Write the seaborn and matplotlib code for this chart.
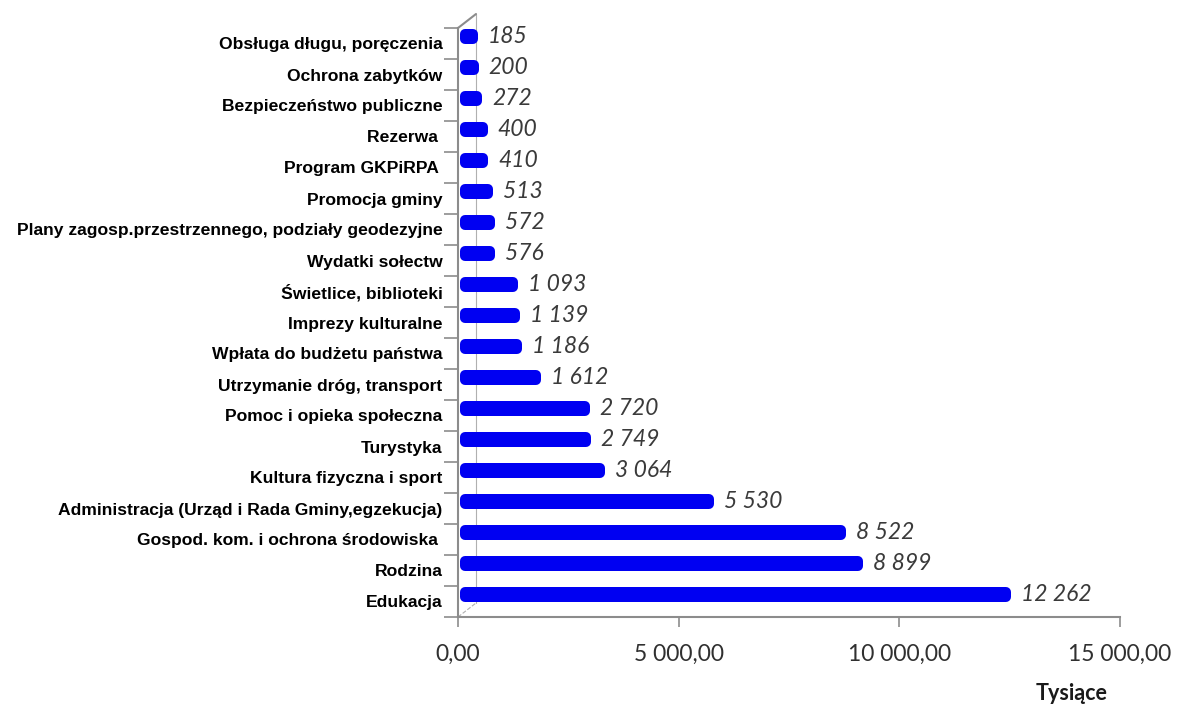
import matplotlib
matplotlib.use("Agg")
import matplotlib.pyplot as plt
import matplotlib.transforms as mtransforms
from matplotlib.lines import Line2D
import seaborn as sns
import pandas as pd

categories = [
    "Obsługa długu, poręczenia",
    "Ochrona zabytków",
    "Bezpieczeństwo publiczne",
    "Rezerwa ",
    "Program GKPiRPA ",
    "Promocja gminy",
    "Plany zagosp.przestrzennego, podziały geodezyjne",
    "Wydatki sołectw",
    "Świetlice, biblioteki",
    "Imprezy kulturalne",
    "Wpłata do budżetu państwa",
    "Utrzymanie dróg, transport",
    "Pomoc i opieka społeczna",
    "Turystyka",
    "Kultura fizyczna i sport",
    "Administracja (Urząd i Rada Gminy,egzekucja)",
    "Gospod. kom. i ochrona środowiska ",
    "Rodzina",
    "Edukacja",
]
values = [185, 200, 272, 400, 410, 513, 572, 576, 1093, 1139, 1186, 1612,
          2720, 2749, 3064, 5530, 8522, 8899, 12262]
xticks = [0, 5000, 10000, 15000]
xtick_labels = ["0,00", "5 000,00", "10 000,00", "15 000,00"]
axis_title = "Tysiące"

df = pd.DataFrame({"cat": categories, "val": values})

sns.set_theme(style="white")
plt.rcParams["font.family"] = ["Liberation Sans", "DejaVu Sans"]

W, H = 1177, 704
fig = plt.figure(figsize=(W / 100, H / 100), dpi=100)
left, right, top, bottom = 458, 1120, 28, 617
ax = fig.add_axes([left / W, 1 - bottom / H, (right - left) / W, (bottom - top) / H])

sns.barplot(data=df, x="val", y="cat", orient="h", color="#0000f2",
            width=0.16, ax=ax, saturation=1)

# 3D-like offset for bars, rounded ends via thick round-joined edge
off = mtransforms.ScaledTranslation(7 / 100, 7 / 100, fig.dpi_scale_trans)
for p in ax.patches:
    p.set_transform(ax.transData + off)
    p.set_edgecolor("#0000f2")
    p.set_linewidth(7.2)
    p.set_joinstyle("round")
    p.set_clip_on(False)
    p.set_zorder(3)

ax.set_xlim(0, 15000)
ax.set_ylim(len(categories) - 0.5, -0.5)
ax.set_xlabel("")
ax.set_ylabel("")

# value labels
lab_off = mtransforms.ScaledTranslation(22 / 100, 7 / 100, fig.dpi_scale_trans)
for i, v in enumerate(values):
    s = f"{v:,}".replace(",", " ")
    ax.text(v, i, s, transform=ax.transData + lab_off, ha="left", va="center",
            fontsize=16.5, style="italic", color="#3a3a3a", family=["Lato", "DejaVu Sans"])

ax.set_xticks(xticks)
ax.set_xticklabels(xtick_labels, family=["Lato", "DejaVu Sans"], fontsize=16.5, color="#303030")
ax.tick_params(axis="x", which="major", bottom=True, length=7, width=1.2, color="#8c8c8c", pad=12)
ax.tick_params(axis="y", which="major", left=False, length=0, pad=11)
ax.set_yticks([i - 0.5 for i in range(len(categories) + 1)], minor=True)
ax.tick_params(axis="y", which="minor", left=True, length=10, width=1.2, color="#8c8c8c")
for t in ax.get_yticklabels():
    t.set_fontweight("bold")
    t.set_fontsize(12.6)
    t.set_color("#000000")

for s in ["top", "right"]:
    ax.spines[s].set_visible(False)
for s in ["left", "bottom"]:
    ax.spines[s].set_color("#8c8c8c")
    ax.spines[s].set_linewidth(1.5)

# back wall and depth lines
back = mtransforms.ScaledTranslation(18 / 100, 14 / 100, fig.dpi_scale_trans)
ax.add_line(Line2D([0, 0], [0, 1], transform=ax.transAxes + back, color="#b0b0b0", lw=0.8,
                   clip_on=False, zorder=0.5))
ax.add_line(Line2D([0, 0.0272], [1, 1 + 14 / 589], transform=ax.transAxes, color="#8c8c8c", lw=1.5, clip_on=False))
ax.add_line(Line2D([0, 0.0272], [0, 14 / 589], transform=ax.transAxes, color="#b0b0b0", lw=0.8, ls="--",
                   clip_on=False, zorder=0.5))

fig.text(1108 / W, 1 - 694 / H, axis_title, ha="right", va="center", fontsize=15.5,
         fontweight="bold", color="#1a1a1a", family=["Lato", "DejaVu Sans"])

fig.savefig("out.png", dpi=100, facecolor="white")
